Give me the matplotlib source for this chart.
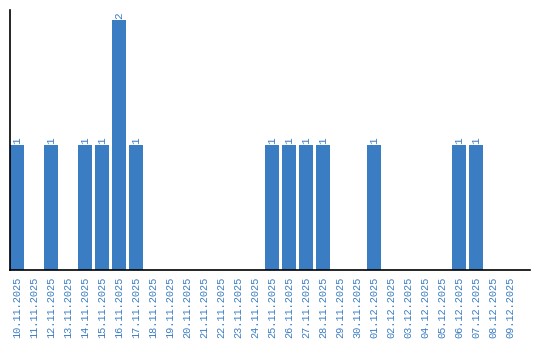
import matplotlib
matplotlib.use("Agg")
import matplotlib.pyplot as plt

dates = ["10.11.2025", "11.11.2025", "12.11.2025", "13.11.2025", "14.11.2025",
         "15.11.2025", "16.11.2025", "17.11.2025", "18.11.2025", "19.11.2025",
         "20.11.2025", "21.11.2025", "22.11.2025", "23.11.2025", "24.11.2025",
         "25.11.2025", "26.11.2025", "27.11.2025", "28.11.2025", "29.11.2025",
         "30.11.2025", "01.12.2025", "02.12.2025", "03.12.2025", "04.12.2025",
         "05.12.2025", "06.12.2025", "07.12.2025", "08.12.2025", "09.12.2025"]
counts = [1, 0, 1, 0, 1, 1, 2, 1, 0, 0,
          0, 0, 0, 0, 0, 1, 1, 1, 1, 0,
          0, 1, 0, 0, 0, 0, 1, 1, 0, 0]

blue = "#3b7dc2"
W, H = 540, 340
fig = plt.figure(figsize=(W / 100, H / 100), dpi=100)
ax = fig.add_axes([10 / W, (H - 270) / H, 520 / W, 260 / H])

x = list(range(len(dates)))
bw = 14 / 17
ax.bar(x, counts, width=bw, color=blue, zorder=2)
ax.set_xlim(-bw / 2, (530 - 17) / 17)
ax.set_ylim(0, 2.08)

for xi, c in zip(x, counts):
    if c > 0:
        ax.text(xi, c + 0.012, str(c), rotation=90, ha="center", va="bottom",
                color=blue, fontsize=8, family="Liberation Mono")

ax.set_xticks(x)
ax.set_xticklabels(dates, rotation=90, color=blue, fontsize=7.4,
                   family="Liberation Mono")
ax.tick_params(axis="x", length=0, pad=5)
ax.set_yticks([])
for s in ["top", "right"]:
    ax.spines[s].set_visible(False)
for s in ["left", "bottom"]:
    ax.spines[s].set_color("black")
    ax.spines[s].set_linewidth(1.2)

fig.savefig("out.png", dpi=100)
